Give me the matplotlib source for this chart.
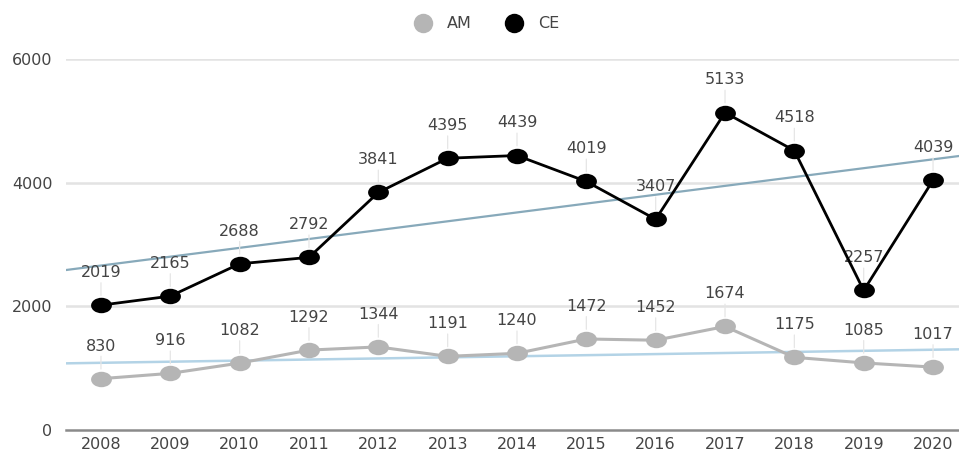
import numpy as np
import matplotlib.pyplot as plt
from matplotlib.path import Path
from matplotlib.lines import Line2D

# chart data
years = ['2008', '2009', '2010', '2011', '2012', '2013', '2014',
         '2015', '2016', '2017', '2018', '2019', '2020']
am = [830, 916, 1082, 1292, 1344, 1191, 1240, 1472, 1452, 1674, 1175, 1085, 1017]
ce = [2019, 2165, 2688, 2792, 3841, 4395, 4439, 4019, 3407, 5133, 4518, 2257, 4039]

# trend lines, values read at the left and right edge of the plot
trend_x = [-0.5, 12.5]
am_trend = [1078, 1307]
ce_trend = [2588, 4449]

y_ticks = [0, 2000, 4000, 6000]

# colours
am_color = '#b5b5b5'
ce_color = '#000000'
am_trend_color = '#b3d3e6'
ce_trend_color = '#87a9ba'
text_color = '#444444'

plt.rcParams['font.family'] = ['DejaVu Sans']

# wide ellipse marker (the source image is stretched horizontally)
circ = Path.unit_circle()
ellipse = Path(circ.vertices * np.array([1.35, 1.0]), circ.codes)

fig = plt.figure(figsize=(9.59, 4.54), dpi=100)
W, H = 959, 454
left_px, right_px = 66.3, 967.7
top_px, bottom_px = 59, 430
ax = fig.add_axes([left_px / W, 1 - bottom_px / H,
                   (right_px - left_px) / W, (bottom_px - top_px) / H])

x = np.arange(len(years))

ax.plot(trend_x, am_trend, color=am_trend_color, lw=1.8, zorder=2.5)
ax.plot(trend_x, ce_trend, color=ce_trend_color, lw=1.6, zorder=2.5)

ax.plot(x, am, color=am_color, lw=2.2, marker=ellipse, markersize=15,
        markeredgewidth=0, zorder=4)
ax.plot(x, ce, color=ce_color, lw=2.0, marker=ellipse, markersize=15,
        markeredgewidth=0, zorder=5)

fs = 11.5
for series in (am, ce):
    for xi, v in zip(x, series):
        ax.annotate(str(v), (xi, v), xytext=(0, 23.5), textcoords='offset points',
                    ha='center', va='center', fontsize=fs, color=text_color,
                    zorder=3,
                    arrowprops=dict(arrowstyle='-', color='#e6e6e6', lw=0.9,
                                    shrinkA=0, shrinkB=7))

ax.set_xlim(-0.5, 12.5)
ax.set_ylim(0, 6000)
ax.set_xticks(x)
ax.set_xticklabels(years)
ax.set_yticks(y_ticks)
ax.tick_params(axis='both', length=0, labelsize=fs, colors=text_color)
ax.tick_params(axis='x', pad=5)
ax.tick_params(axis='y', pad=10)
for s in ['top', 'right', 'left']:
    ax.spines[s].set_visible(False)
ax.spines['bottom'].set_color('#8a8a8a')
ax.spines['bottom'].set_linewidth(1.8)
for t in y_ticks[1:]:
    ax.axhline(t, color='#e3e3e3', lw=1.8, zorder=1)

# legend
leg_y = 1 - 23 / H
for cx, tx, col, lab in [(422.5, 447, am_color, 'AM'), (514, 538, ce_color, 'CE')]:
    fig.add_artist(Line2D([cx / W], [leg_y], marker='o', markersize=14,
                          color=col, markeredgewidth=0, transform=fig.transFigure))
    fig.text(tx / W, leg_y, lab, ha='left', va='center', fontsize=fs,
             color=text_color)

fig.savefig('out.png', dpi=100)
